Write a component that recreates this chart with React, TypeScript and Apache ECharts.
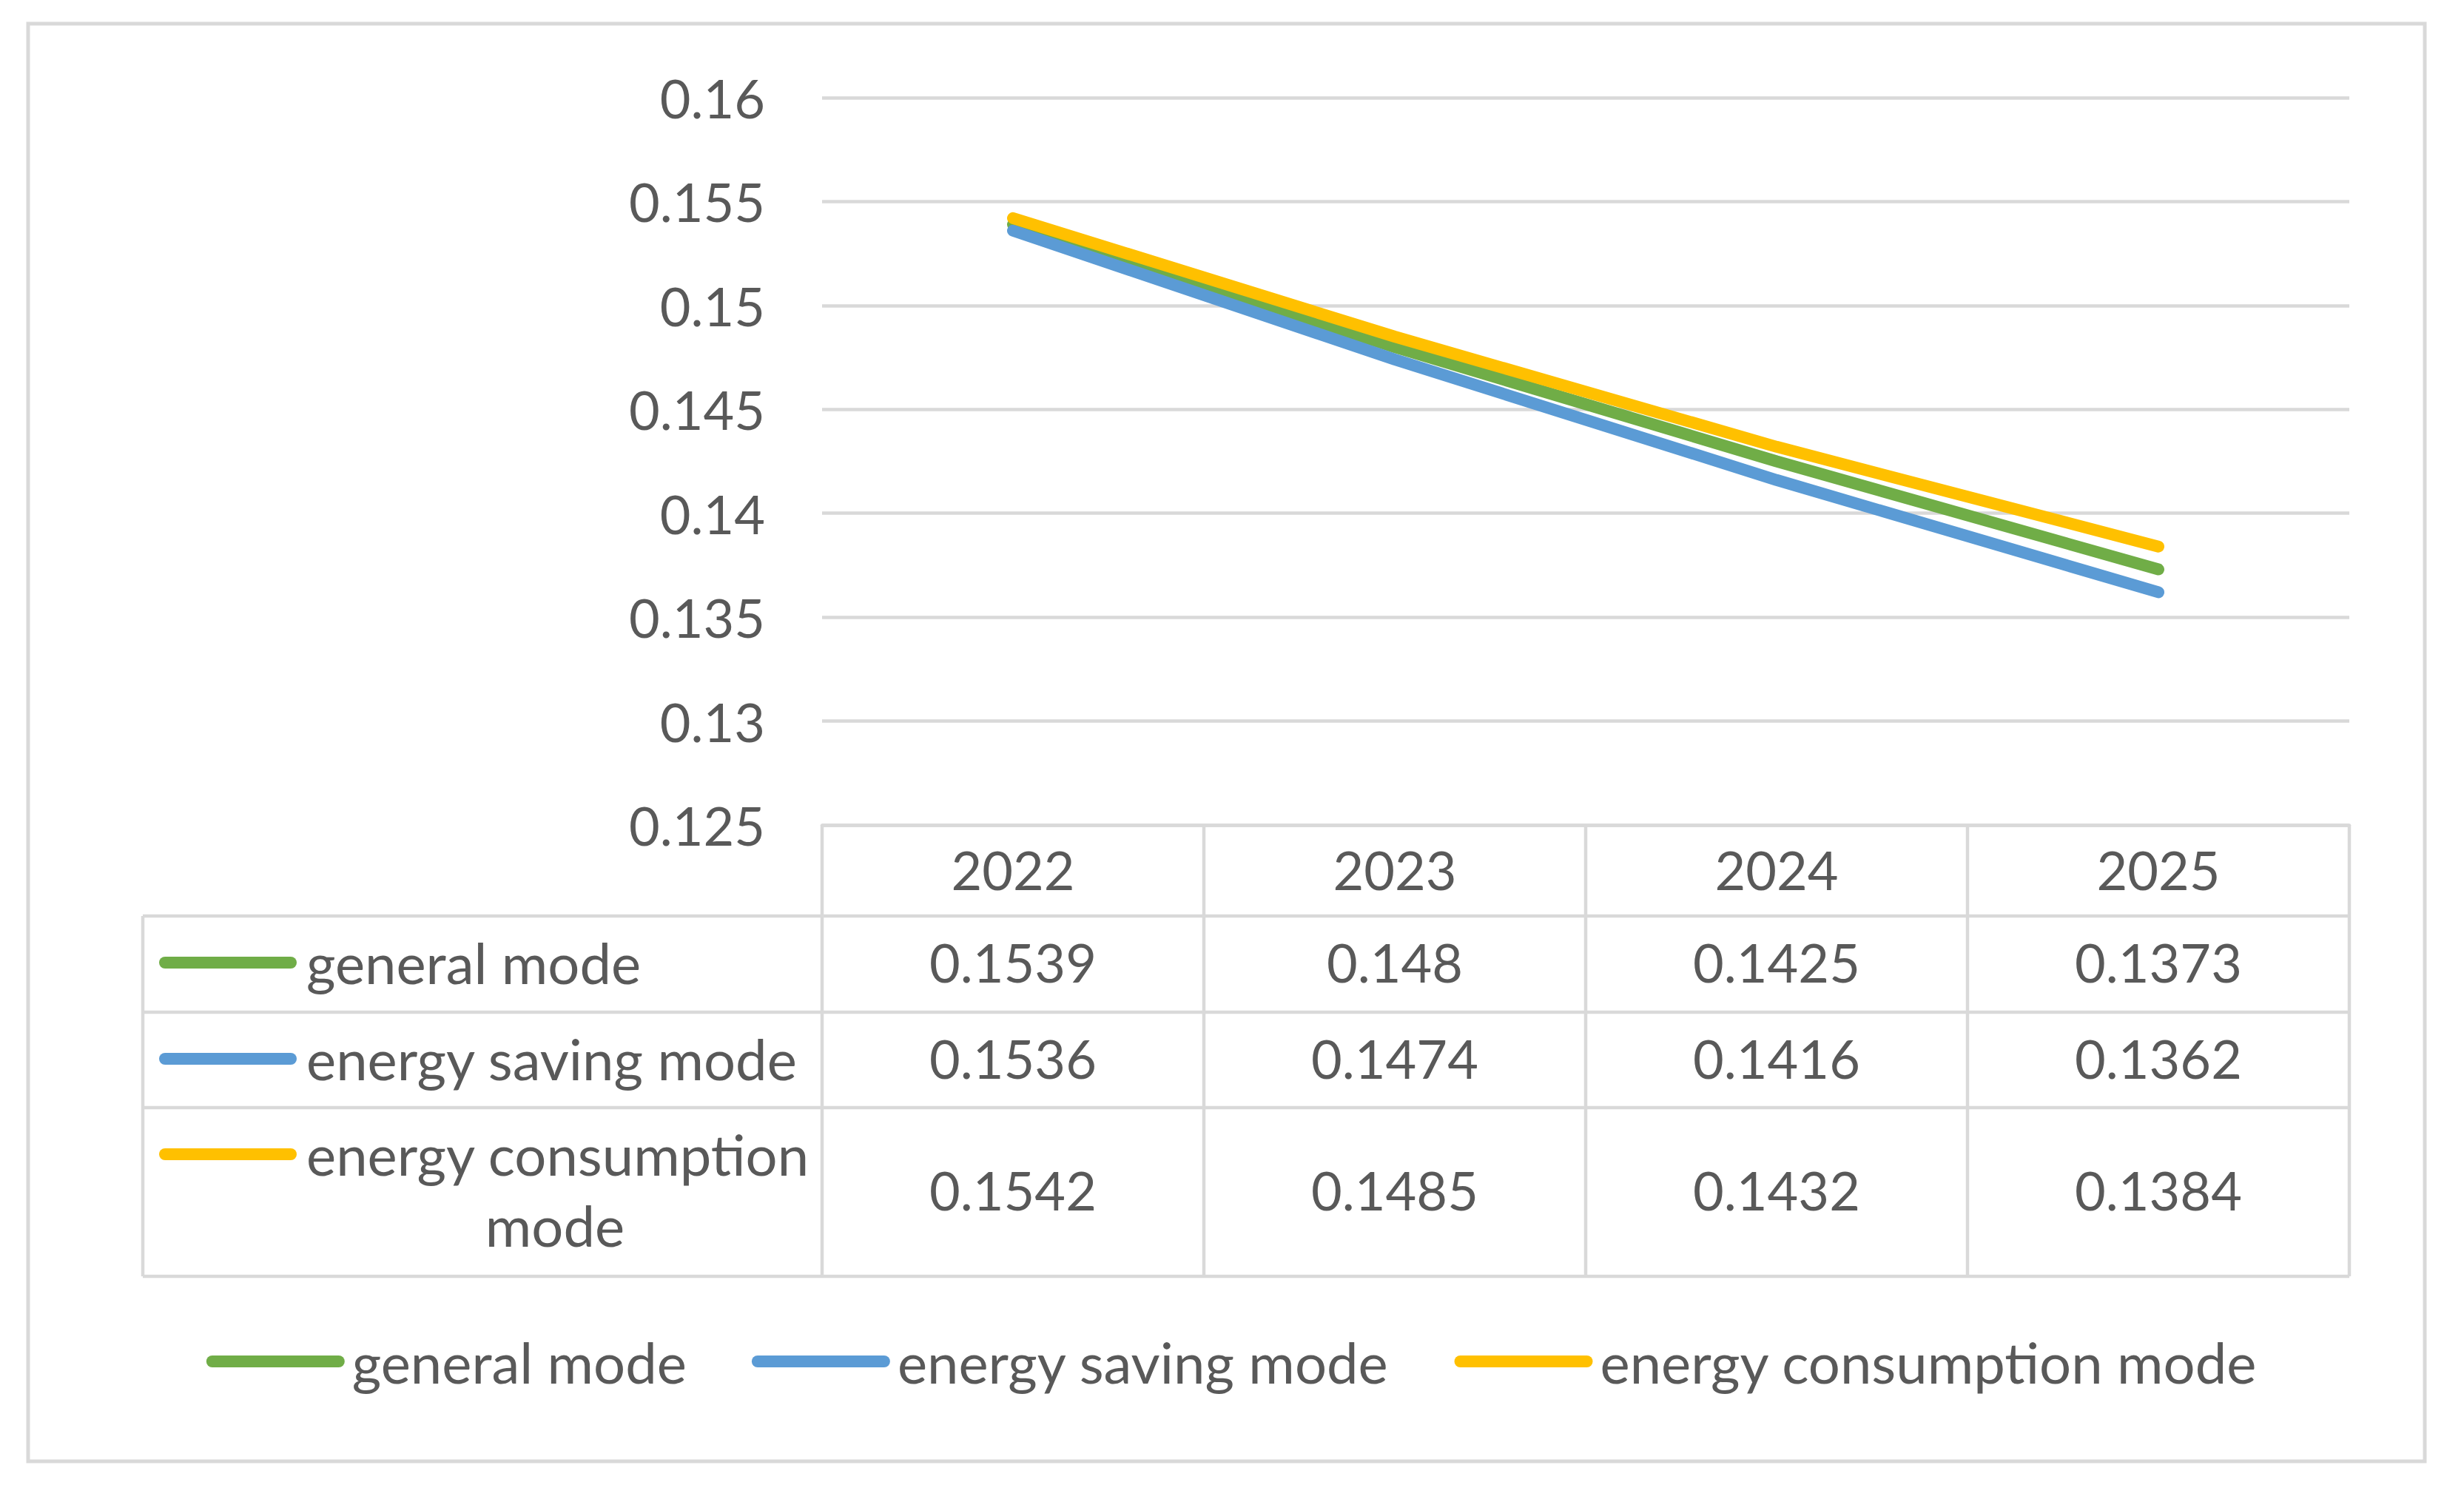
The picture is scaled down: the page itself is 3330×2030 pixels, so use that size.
import React, { useEffect, useRef } from "react";
import * as echarts from "echarts";

const categories = ["2022", "2023", "2024", "2025"];
const seriesNames = ["general mode", "energy saving mode", "energy consumption mode"];
const generalMode = [0.1539, 0.148, 0.1425, 0.1373];
const savingMode = [0.1536, 0.1474, 0.1416, 0.1362];
const consumptionMode = [0.1542, 0.1485, 0.1432, 0.1384];
const yMin = 0.125;
const yMax = 0.16;
const yInterval = 0.005;

const COLORS = ["#70AD47", "#5B9BD5", "#FFC000"];
const TEXT = "#595959";
const GRIDC = "#D9D9D9";
const FONT = "Lato";
const FS_NUM = 72;
const FS_WORD = 76;

const W = 3330;
const H = 2030;
const PLOT_L = 1111;
const PLOT_R = 3175;
const PLOT_T = 132;
const PLOT_B = 1115;
const TABLE_L = 193;
const ROWS = [1115, 1238, 1368, 1497, 1725];

export default function App() {
  const ref = useRef<HTMLDivElement>(null);
  useEffect(() => {
    document.body.style.margin = "0";
    if (!ref.current) return;
    const chart = echarts.init(ref.current, null, { renderer: "svg" });
    const allSeries = [generalMode, savingMode, consumptionMode];
    const colW = (PLOT_R - PLOT_L) / categories.length;
    const graphics: any[] = [];
    graphics.push({
      type: "rect",
      shape: { x: 38, y: 32, width: 3239, height: 1943 },
      style: { fill: "none", stroke: GRIDC, lineWidth: 5 },
      z: 0,
    });
    const line = (x1: number, y1: number, x2: number, y2: number) => ({
      type: "line",
      shape: { x1, y1, x2, y2 },
      style: { stroke: GRIDC, lineWidth: 4.5 },
      z: 1,
    });
    for (let r = 1; r < ROWS.length; r++) graphics.push(line(TABLE_L, ROWS[r], PLOT_R, ROWS[r]));
    for (let c = 0; c <= categories.length; c++) {
      const x = PLOT_L + c * colW;
      graphics.push(line(x, ROWS[0], x, ROWS[ROWS.length - 1]));
    }
    graphics.push(line(TABLE_L, ROWS[1], TABLE_L, ROWS[ROWS.length - 1]));
    const rowTextY = [1300, 1430, 1559];
    const rowValY = [1300, 1430, 1608];
    seriesNames.forEach((name, i) => {
      graphics.push({
        type: "line",
        shape: { x1: 223, y1: rowTextY[i] + 1, x2: 393, y2: rowTextY[i] + 1 },
        style: { stroke: COLORS[i], lineWidth: 16, lineCap: "round" },
        z: 2,
      });
      const wordStyle = { fontSize: FS_WORD, fontFamily: FONT, fill: TEXT, verticalAlign: "middle" };
      if (i === 2) {
        graphics.push({ type: "text", style: { ...wordStyle, text: "energy consumption", x: 414, y: rowTextY[i], align: "left" }, z: 2 });
        graphics.push({ type: "text", style: { ...wordStyle, text: "mode", x: 750, y: 1655, align: "center" }, z: 2 });
      } else {
        graphics.push({ type: "text", style: { ...wordStyle, text: name, x: 414, y: rowTextY[i], align: "left" }, z: 2 });
      }
      allSeries[i].forEach((v, j) => {
        graphics.push({
          type: "text",
          style: { text: String(v), x: PLOT_L + colW * (j + 0.5), y: rowValY[i], fontSize: FS_NUM, fontFamily: FONT, fill: TEXT, verticalAlign: "middle", align: "center" },
          z: 2,
        });
      });
    });

    chart.setOption({
      animation: false,
      backgroundColor: "#FFFFFF",
      grid: { left: PLOT_L, right: W - PLOT_R, top: PLOT_T, bottom: H - PLOT_B, containLabel: false },
      xAxis: {
        type: "category",
        data: categories,
        boundaryGap: true,
        axisLine: { show: true, lineStyle: { color: GRIDC, width: 4.5 } },
        axisTick: { show: false },
        axisLabel: { margin: 60, verticalAlign: "middle", fontSize: FS_NUM, fontFamily: FONT, color: TEXT },
      },
      yAxis: {
        type: "value",
        min: yMin,
        max: yMax,
        interval: yInterval,
        axisLine: { show: false },
        axisTick: { show: false },
        splitLine: { show: true, lineStyle: { color: GRIDC, width: 4.5 } },
        axisLabel: { margin: 77, fontSize: FS_NUM, fontFamily: FONT, color: TEXT, padding: [0, 0, 6, 0], formatter: (v: number) => String(Math.round(v * 1000) / 1000) },
      },
      legend: {
        data: seriesNames,
        left: "center",
        top: 1790,
        itemWidth: 187,
        itemHeight: 16,
        itemGap: 88,
        icon: "path://M8,0 H179 A8,8 0 0 1 179,16 H8 A8,8 0 0 1 8,0 Z",
        textStyle: { fontSize: FS_WORD, fontFamily: FONT, color: TEXT, lineHeight: 90, padding: [0, 0, 0, 5] },
      },
      series: seriesNames.map((name, i) => ({
        name,
        type: "line",
        data: allSeries[i],
        symbol: "none",
        color: COLORS[i],
        lineStyle: { width: 16, color: COLORS[i], cap: "round" },
        z: 3 + i,
      })),
      graphic: graphics,
    });
    return () => chart.dispose();
  }, []);
  return <div ref={ref} style={{ width: W, height: H }} />;
}
